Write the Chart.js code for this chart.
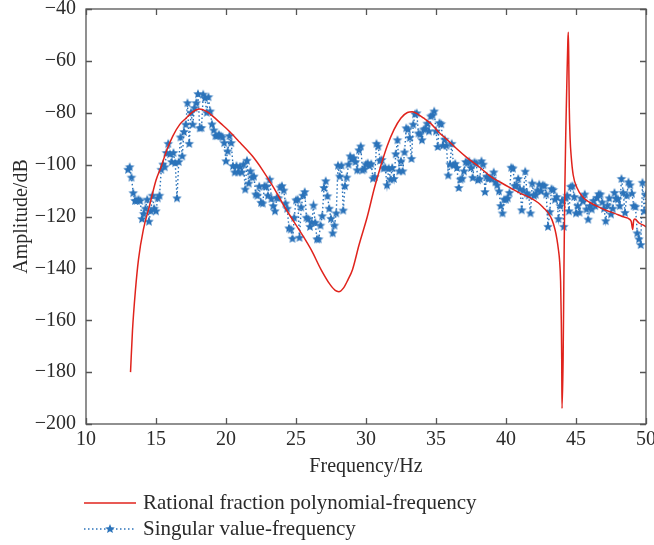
<!DOCTYPE html>
<html lang="en">
  <head>
    <meta charset="utf-8" />
    <title>Amplitude / frequency</title>
    <style>
      * {
        margin: 0;
        padding: 0;
      }
      body {
        background: #fff;
      }
      .chartBox {
        width: 654px;
        height: 545px;
      }
    </style>
  </head>
  <body>
    <div class="chartBox">
      <canvas id="myChart"></canvas>
    </div>

    <script src="https://cdn.jsdelivr.net/npm/chart.js@4.4.0/dist/chart.umd.min.js"></script>

    <script>
      // rational fraction polynomial fit
      const fitFreq = [
        13.18, 13.32, 13.53, 13.75, 14.1, 14.53, 15.0, 15.38, 15.8, 16.2, 16.7, 17.17, 17.6, 18.1, 18.6,
        19.07, 19.6, 20.25, 21.0, 21.9, 22.6, 23.34, 24.3, 25.36, 26.1, 26.78, 27.4, 27.8, 28.06, 28.4,
        28.7, 29.04, 29.5, 30.1, 30.6, 31.05, 31.5, 32.0, 32.5, 32.96, 33.3, 33.67, 34.1, 34.6, 35.2,
        35.8, 36.5, 37.23, 38.18, 38.89, 39.6, 40.31, 41.0, 41.74, 42.3, 42.69, 43.0, 43.28, 43.5, 43.64,
        43.75, 43.82, 43.9, 43.95, 43.98, 44.0, 44.08, 44.14, 44.2, 44.28, 44.36, 44.42, 44.45, 44.48,
        44.52, 44.58, 44.66, 44.8, 45.06, 45.53, 46.0, 46.49, 47.1, 47.67, 48.3, 48.86, 48.95, 49.05,
        49.12, 49.2, 49.5, 49.93, 50.0,
      ];
      const fitAmp = [
        -180, -164, -148.5, -136.5, -125, -116, -106, -100.6, -94, -89, -84.5, -82, -79.8, -78.6, -79.5,
        -81.4, -84, -87.2, -91.5, -96.8, -102, -108.3, -117.3, -126.3, -133, -140.4, -146, -148.5, -149, -147.5,
        -144.5, -140.4, -131, -119.9, -109, -100.6, -93, -86.5, -82, -79.9, -79.6, -80.4, -82, -84, -87.5,
        -90.4, -94, -97.4, -101.3, -104.5, -106.8, -109, -111, -112.8, -114.7, -116.7, -118.5, -121.2, -125, -128.8,
        -133, -136.5, -145, -160, -175, -194, -175, -140, -110, -85, -65, -52, -49, -58,
        -78, -90, -97, -104, -108.8, -112.8, -114.6, -116, -117.5, -118.6, -120, -121.2, -122, -125,
        -121.5, -121, -122.5, -123.7, -124,
      ];

      // singular value samples, one every 0.125 Hz from 13 Hz (one row per Hz)
      const svStart = 13;
      const svStep = 0.125;
      const svAmp = [
        -102, -101, -105, -111, -114, -114, -113.5, -114,
        -121, -119, -117, -113.5, -122, -118, -112, -117,
        -118, -113, -112, -102, -100, -101, -95.5, -92,
        -96, -99, -95.5, -99.4, -113, -99, -89.5, -96.8,
        -87.4, -84.6, -76.3, -92, -80, -84.6, -78.2, -76.3,
        -72.8, -86, -85.9, -73, -74.4, -80, -74, -79.5,
        -84.5, -86.8, -89, -89, -88.5, -89, -89.5, -91.7,
        -98.7, -94.9, -89, -91.7, -100.6, -103, -100.5, -103,
        -101, -103, -100, -109.6, -98.5, -107.3, -102.6, -105,
        -104.6, -111.5, -112, -108.5, -114.7, -115, -108.3, -108.5,
        -112, -105.8, -113.2, -116, -118, -112.8, -113, -108.8,
        -108.3, -110, -115, -117, -124.6, -125, -128.6, -120.5,
        -113.8, -113.5, -128.2, -116.5, -112, -110.6, -120.5, -121,
        -124, -122.4, -115.8, -122.4, -128.8, -128.8, -123.5, -119.9,
        -109, -106.4, -112.2, -117, -120.9, -126.5, -123.5, -118.8,
        -100.4, -104.6, -100.4, -117.7, -108.3, -105, -100, -96.8,
        -98, -97.5, -99, -102.2, -94.5, -93, -102.2, -101.8,
        -100, -99.5, -100.5, -99.8, -105.4, -104.8, -92, -93,
        -98.5, -98.2, -101.5, -101.2, -108, -101.5, -105.8, -101.3,
        -105.5, -96, -90.6, -102.6, -98.7, -102.6, -95.3, -86,
        -86.5, -89.7, -97.8, -84.6, -80.6, -80.2, -88, -88.4,
        -90.6, -86.5, -86.2, -84.2, -87.2, -81.4, -81, -79.5,
        -87.2, -93.2, -84, -84.4, -92.7, -90.4, -92.7, -104.2,
        -100, -92, -100.3, -99.7, -101.3, -109, -105.8, -105.4,
        -102.6, -99, -99.4, -98.8, -101.3, -105.1, -99.2, -99.6,
        -106, -105.6, -98.7, -100, -110.6, -104.6, -105.5, -105.2,
        -105.5, -103, -106.8, -108, -110.3, -116, -118.8, -113.5,
        -113.5, -113, -110.9, -101.2, -101.5, -108.3, -108.1, -105.5,
        -109.5, -117.6, -110, -102.7, -111.1, -111.9, -118.8, -107.3,
        -112, -111.6, -110, -107.7, -110.3, -108, -108.2, -111.5,
        -124, -118.3, -109.4, -109.8, -113.5, -112.5, -121, -116,
        -114, -124, -113, -112, -118, -108.6, -108.3, -112.5,
        -118.8, -116, -118.5, -113, -114.2, -111.5, -117.3, -121.2,
        -116, -117.3, -114, -116, -112.8, -111.4, -111.5, -114.6,
        -117, -121.8, -115.8, -113, -119.2, -117, -110.9, -113.2,
        -113.4, -116, -105.5, -110.9, -118.6, -112, -106.8, -108,
        -111.2, -116, -116.3, -126.5, -128.8, -131, -107, -118,
        -111.5,
      ];

      const xTicks = [10, 15, 20, 25, 30, 35, 40, 45, 50];
      const yTicks = [-200, -180, -160, -140, -120, -100, -80, -60, -40];

      const fitColor = "#e0231c";
      const svColor = "#2b73ba";
      const axisColor = "#555";
      const textColor = "#2a2a2a";
      const serif = "'Liberation Serif', 'DejaVu Serif', serif";

      // filled five-point star used as marker
      function makeStar(r, color) {
        const c = document.createElement("canvas");
        const s = Math.ceil(r * 2 + 2);
        c.width = s;
        c.height = s;
        const g = c.getContext("2d");
        g.beginPath();
        for (let i = 0; i < 10; i++) {
          const rad = i % 2 ? r * 0.45 : r;
          const a = -Math.PI / 2 + (i * Math.PI) / 5;
          g.lineTo(s / 2 + rad * Math.cos(a), s / 2 + rad * Math.sin(a));
        }
        g.closePath();
        g.fillStyle = color;
        g.fill();
        return c;
      }
      const star = makeStar(5, svColor);

      const fitData = fitFreq.map((f, i) => ({ x: f, y: fitAmp[i] }));
      const svData = svAmp.map((v, i) => ({ x: svStart + i * svStep, y: v }));

      const minus = (v) => String(v).replace("-", "\u2212");

      // box round the plot with inward ticks on all four sides
      const boxTicks = {
        id: "boxTicks",
        afterDatasetsDraw(chart) {
          const {
            ctx,
            chartArea: { left, right, top, bottom },
            scales: { x, y },
          } = chart;
          ctx.save();
          ctx.strokeStyle = axisColor;
          ctx.lineWidth = 1.3;
          ctx.strokeRect(left, top, right - left, bottom - top);
          ctx.beginPath();
          xTicks.forEach((v) => {
            const px = Math.round(x.getPixelForValue(v)) + 0.5;
            ctx.moveTo(px, bottom);
            ctx.lineTo(px, bottom - 6);
            ctx.moveTo(px, top);
            ctx.lineTo(px, top + 6);
          });
          yTicks.forEach((v) => {
            const py = Math.round(y.getPixelForValue(v)) + 0.5;
            ctx.moveTo(left, py);
            ctx.lineTo(left + 6, py);
            ctx.moveTo(right, py);
            ctx.lineTo(right - 6, py);
          });
          ctx.stroke();
          ctx.restore();
        },
      };

      // legend under the axes, left aligned, two rows
      const bottomLegend = {
        id: "bottomLegend",
        afterDraw(chart) {
          const { ctx } = chart;
          ctx.save();
          ctx.font = `21px ${serif}`;
          ctx.fillStyle = textColor;
          ctx.textBaseline = "middle";
          ctx.textAlign = "left";

          ctx.strokeStyle = fitColor;
          ctx.lineWidth = 1.5;
          ctx.beginPath();
          ctx.moveTo(84, 503);
          ctx.lineTo(136, 503);
          ctx.stroke();
          ctx.fillText(chart.data.datasets[0].label, 143, 503);

          ctx.strokeStyle = svColor;
          ctx.setLineDash([1.5, 2.5]);
          ctx.beginPath();
          ctx.moveTo(84, 529);
          ctx.lineTo(136, 529);
          ctx.stroke();
          ctx.setLineDash([]);
          ctx.drawImage(star, 110 - star.width / 2, 529 - star.height / 2);
          ctx.fillText(chart.data.datasets[1].label, 143, 529);
          ctx.restore();
        },
      };

      const config = {
        type: "line",
        data: {
          datasets: [
            {
              label: "Rational fraction polynomial-frequency",
              data: fitData,
              borderColor: fitColor,
              borderWidth: 1.5,
              pointRadius: 0,
              cubicInterpolationMode: "monotone",
              order: 1,
            },
            {
              label: "Singular value-frequency",
              data: svData,
              borderColor: svColor,
              borderWidth: 1.4,
              borderDash: [1.5, 2.5],
              pointStyle: star,
              pointRadius: 5,
              tension: 0,
              order: 2,
            },
          ],
        },
        options: {
          animation: false,
          responsive: true,
          maintainAspectRatio: false,
          layout: {
            padding: { top: 9, right: 8, bottom: 61, left: 0 },
          },
          plugins: {
            legend: { display: false },
            tooltip: { enabled: false },
          },
          scales: {
            x: {
              type: "linear",
              min: 10,
              max: 50,
              grid: { display: false, drawTicks: false },
              border: { display: false },
              afterBuildTicks: (scale) => {
                scale.ticks = xTicks.map((v) => ({ value: v }));
              },
              afterFit: (scale) => {
                scale.height = 60;
                scale.paddingLeft = 0;
                scale.paddingRight = 0;
              },
              ticks: {
                padding: 4,
                maxRotation: 0,
                autoSkip: false,
                color: textColor,
                font: { family: serif, size: 20 },
              },
              title: {
                display: true,
                text: "Frequency/Hz",
                color: textColor,
                font: { family: serif, size: 20 },
                padding: { top: 0, bottom: 5 },
              },
            },
            y: {
              min: -200,
              max: -40,
              grid: { display: false, drawTicks: false },
              border: { display: false },
              afterBuildTicks: (scale) => {
                scale.ticks = yTicks.map((v) => ({ value: v }));
              },
              afterFit: (scale) => {
                scale.width = 86;
                scale.paddingTop = 0;
                scale.paddingBottom = 0;
              },
              ticks: {
                padding: 10,
                autoSkip: false,
                color: textColor,
                font: { family: serif, size: 20 },
                callback: (v) => minus(v),
              },
              title: {
                display: true,
                text: "Amplitude/dB",
                color: textColor,
                font: { family: serif, size: 20 },
                padding: { top: 10, bottom: 0 },
              },
            },
          },
        },
        plugins: [boxTicks, bottomLegend],
      };

      const myChart = new Chart(document.getElementById("myChart"), config);
    </script>
  </body>
</html>
